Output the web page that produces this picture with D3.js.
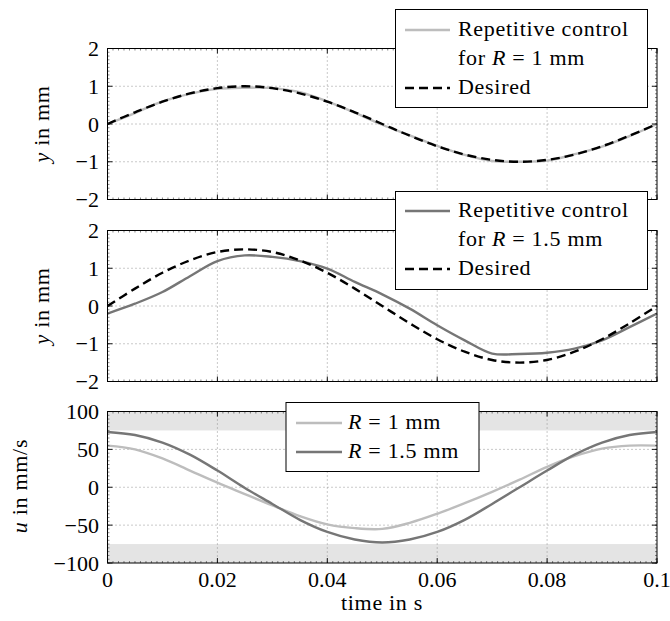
<!DOCTYPE html>
<html>
<head>
<meta charset="utf-8">
<script src="https://cdn.jsdelivr.net/npm/d3@7"></script>
<style>
  html, body { margin: 0; padding: 0; background: #fff; }
</style>
</head>
<body>
<div id="chart"></div>
<script>
// sample times (s)
const time = [0, 0.005, 0.01, 0.015, 0.02, 0.025, 0.03, 0.035, 0.04, 0.045, 0.05,
  0.055, 0.06, 0.065, 0.07, 0.075, 0.08, 0.085, 0.09, 0.095, 0.1];

// panel 1: R = 1 mm
const desired1 = [0, 0.31, 0.59, 0.81, 0.95, 1.0, 0.95, 0.81, 0.59, 0.31, 0,
  -0.31, -0.59, -0.81, -0.95, -1.0, -0.95, -0.81, -0.59, -0.31, 0];
const rep1 = [0, 0.29, 0.6, 0.8, 0.93, 0.96, 0.95, 0.84, 0.6, 0.3, -0.02,
  -0.3, -0.58, -0.82, -0.98, -1.0, -0.97, -0.8, -0.6, -0.32, 0];

// panel 2: R = 1.5 mm
const desired2 = [0, 0.46, 0.88, 1.21, 1.43, 1.5, 1.43, 1.21, 0.88, 0.46, 0,
  -0.46, -0.88, -1.21, -1.43, -1.5, -1.43, -1.21, -0.88, -0.46, 0];
const rep2 = [-0.2, 0.06, 0.37, 0.79, 1.19, 1.34, 1.3, 1.19, 0.99, 0.64, 0.31,
  -0.07, -0.51, -0.91, -1.26, -1.27, -1.24, -1.13, -0.91, -0.56, -0.2];

// panel 3: input u in mm/s
const u1 = [55, 50, 38, 22, 6, -9, -24, -38, -49, -54, -55,
  -47, -35, -21, -6, 10, 27, 41, 51, 55, 55];
const u15 = [73, 69, 59, 43, 22, -1, -22, -43, -59, -69, -73,
  -69, -59, -43, -22, 0, 22, 43, 59, 69, 73];

const xTicks = [0, 0.02, 0.04, 0.06, 0.08, 0.1];
const yTicksMm = [-2, -1, 0, 1, 2];
const yTicksU = [-100, -50, 0, 50, 100];
const uLimit = 75;

const W = 670, H = 621;
const X0 = 107.5, X1 = 657;
const LIGHT = '#bdbdbd', DARK = '#767676';
const FONT = '"Liberation Serif", "Times New Roman", serif';
const FS = '22px';

const svg = d3.select('#chart').append('svg').attr('width', W).attr('height', H)
  .attr('font-family', FONT);
const x = d3.scaleLinear().domain([0, 0.1]).range([X0, X1]);

const fmtNum = v => (v < 0 ? '\u2212' + Math.abs(v) : String(v));

function txt(sel) {
  return sel.style('font-family', FONT).style('font-size', FS).attr('fill', '#000');
}

function panel(top, bottom, domain, yTicks, minorStep, showX) {
  const y = d3.scaleLinear().domain(domain).range([bottom, top]);
  const g = svg.append('g');
  // grid
  g.selectAll('.gx').data(xTicks.slice(1, -1)).join('line')
    .attr('x1', d => x(d)).attr('x2', d => x(d)).attr('y1', top).attr('y2', bottom)
    .attr('stroke', '#888').attr('stroke-width', 0.9).attr('stroke-dasharray', '1,3');
  g.selectAll('.gy').data(yTicks.slice(1, -1)).join('line')
    .attr('x1', X0).attr('x2', X1).attr('y1', d => y(d)).attr('y2', d => y(d))
    .attr('stroke', '#888').attr('stroke-width', 0.9).attr('stroke-dasharray', '1,3');
  return { g, y, top, bottom, yTicks, minorStep, showX };
}

function frame(p) {
  const { y, top, bottom, yTicks, minorStep, showX } = p;
  const g = svg.append('g');
  const minorX = d3.range(0, 0.1001, 0.001);
  const dom = y.domain();
  const minorY = d3.range(dom[0], dom[1] + minorStep / 2, minorStep);
  g.selectAll('.mx').data(minorX).join('path')
    .attr('d', d => `M${x(d)},${bottom}v-2M${x(d)},${top}v2`)
    .attr('stroke', '#333').attr('stroke-width', 0.6);
  g.selectAll('.my').data(minorY).join('path')
    .attr('d', d => `M${X0},${y(d)}h2M${X1},${y(d)}h-2`)
    .attr('stroke', '#333').attr('stroke-width', 0.6);
  g.selectAll('.tx').data(xTicks).join('path')
    .attr('d', d => `M${x(d)},${bottom}v-5M${x(d)},${top}v5`)
    .attr('stroke', '#000').attr('stroke-width', 0.9);
  g.selectAll('.ty').data(yTicks).join('path')
    .attr('d', d => `M${X0},${y(d)}h5M${X1},${y(d)}h-5`)
    .attr('stroke', '#000').attr('stroke-width', 0.9);
  g.append('rect').attr('x', X0).attr('y', top).attr('width', X1 - X0).attr('height', bottom - top)
    .attr('fill', 'none').attr('stroke', '#000').attr('stroke-width', 1);
  g.selectAll('.ly').data(yTicks).join('text')
    .attr('x', 99).attr('y', d => y(d) + 7.5).attr('text-anchor', 'end')
    .call(txt).text(fmtNum);
  if (showX) {
    g.selectAll('.lx').data(xTicks).join('text')
      .attr('x', d => x(d)).attr('y', bottom + 24).attr('text-anchor', 'middle')
      .call(txt).text(d => String(d));
  }
}

function curve(p, vals, color, dashed) {
  const line = d3.line().x((d, i) => x(time[i])).y(d => p.y(d)).curve(d3.curveCatmullRom);
  p.g.append('path').attr('d', line(vals)).attr('fill', 'none')
    .attr('stroke', color).attr('stroke-width', 2.4)
    .attr('stroke-dasharray', dashed ? '9,5' : null);
}

function yLabel(cx, cy, italicVar, rest) {
  const t = svg.append('text').attr('transform', `translate(${cx},${cy}) rotate(-90)`)
    .attr('text-anchor', 'middle').call(txt).style('letter-spacing', '0.7px');
  t.append('tspan').style('font-style', 'italic').text(italicVar);
  t.append('tspan').text(rest);
}

// parts: [text, italic]
function legend(x0, y0, w, h, rows) {
  const g = svg.append('g');
  g.append('rect').attr('x', x0).attr('y', y0).attr('width', w).attr('height', h)
    .attr('fill', '#fff').attr('stroke', '#000').attr('stroke-width', 1);
  rows.forEach(r => {
    if (r.color) {
      g.append('line').attr('x1', r.lx0).attr('x2', r.lx1).attr('y1', r.y - 6).attr('y2', r.y - 6)
        .attr('stroke', r.color).attr('stroke-width', 2.4)
        .attr('stroke-dasharray', r.dashed ? '9,5' : null);
    }
    const t = g.append('text').attr('x', r.tx).attr('y', r.y).call(txt)
      .style('letter-spacing', '0.7px');
    r.parts.forEach(pt => t.append('tspan')
      .style('font-style', pt[1] ? 'italic' : 'normal').text(pt[0]));
  });
}

// panel 1
const p1 = panel(48.5, 199.5, [-2, 2], yTicksMm, 0.1, false);
curve(p1, rep1, LIGHT, false);
curve(p1, desired1, '#000', true);
frame(p1);
yLabel(49, 124, 'y', ' in mm');

// panel 2
const p2 = panel(230.5, 381.5, [-2, 2], yTicksMm, 0.1, false);
curve(p2, rep2, DARK, false);
curve(p2, desired2, '#000', true);
frame(p2);
yLabel(49, 306, 'y', ' in mm');

// panel 3
const p3 = panel(411.5, 563, [-100, 100], yTicksU, 5, true);
p3.g.insert('rect', ':first-child').attr('x', X0).attr('width', X1 - X0)
  .attr('y', p3.y(100)).attr('height', p3.y(uLimit) - p3.y(100)).attr('fill', '#e4e4e4');
p3.g.insert('rect', ':first-child').attr('x', X0).attr('width', X1 - X0)
  .attr('y', p3.y(-uLimit)).attr('height', p3.y(-100) - p3.y(-uLimit)).attr('fill', '#e4e4e4');
curve(p3, u1, LIGHT, false);
curve(p3, u15, DARK, false);
frame(p3);
yLabel(27, 486, 'u', ' in mm/s');

svg.append('text').attr('x', 382).attr('y', 610).attr('text-anchor', 'middle')
  .call(txt).style('letter-spacing', '0.7px').text('time in s');

// legends
legend(395.5, 9.5, 252, 98, [
  { y: 36, tx: 458, lx0: 405, lx1: 450, color: LIGHT, parts: [['Repetitive control']] },
  { y: 65, tx: 458, parts: [['for '], ['R', true], [' = 1 mm']] },
  { y: 94, tx: 458, lx0: 405, lx1: 450, color: '#000', dashed: true, parts: [['Desired']] }
]);
legend(395.5, 191.5, 252, 98, [
  { y: 217, tx: 458, lx0: 405, lx1: 450, color: DARK, parts: [['Repetitive control']] },
  { y: 246, tx: 458, parts: [['for '], ['R', true], [' = 1.5 mm']] },
  { y: 275, tx: 458, lx0: 405, lx1: 450, color: '#000', dashed: true, parts: [['Desired']] }
]);
legend(286, 402.5, 193, 69, [
  { y: 429, tx: 348, lx0: 296, lx1: 342, color: LIGHT, parts: [['R', true], [' = 1 mm']] },
  { y: 458, tx: 348, lx0: 296, lx1: 342, color: DARK, parts: [['R', true], [' = 1.5 mm']] }
]);
</script>
</body>
</html>
